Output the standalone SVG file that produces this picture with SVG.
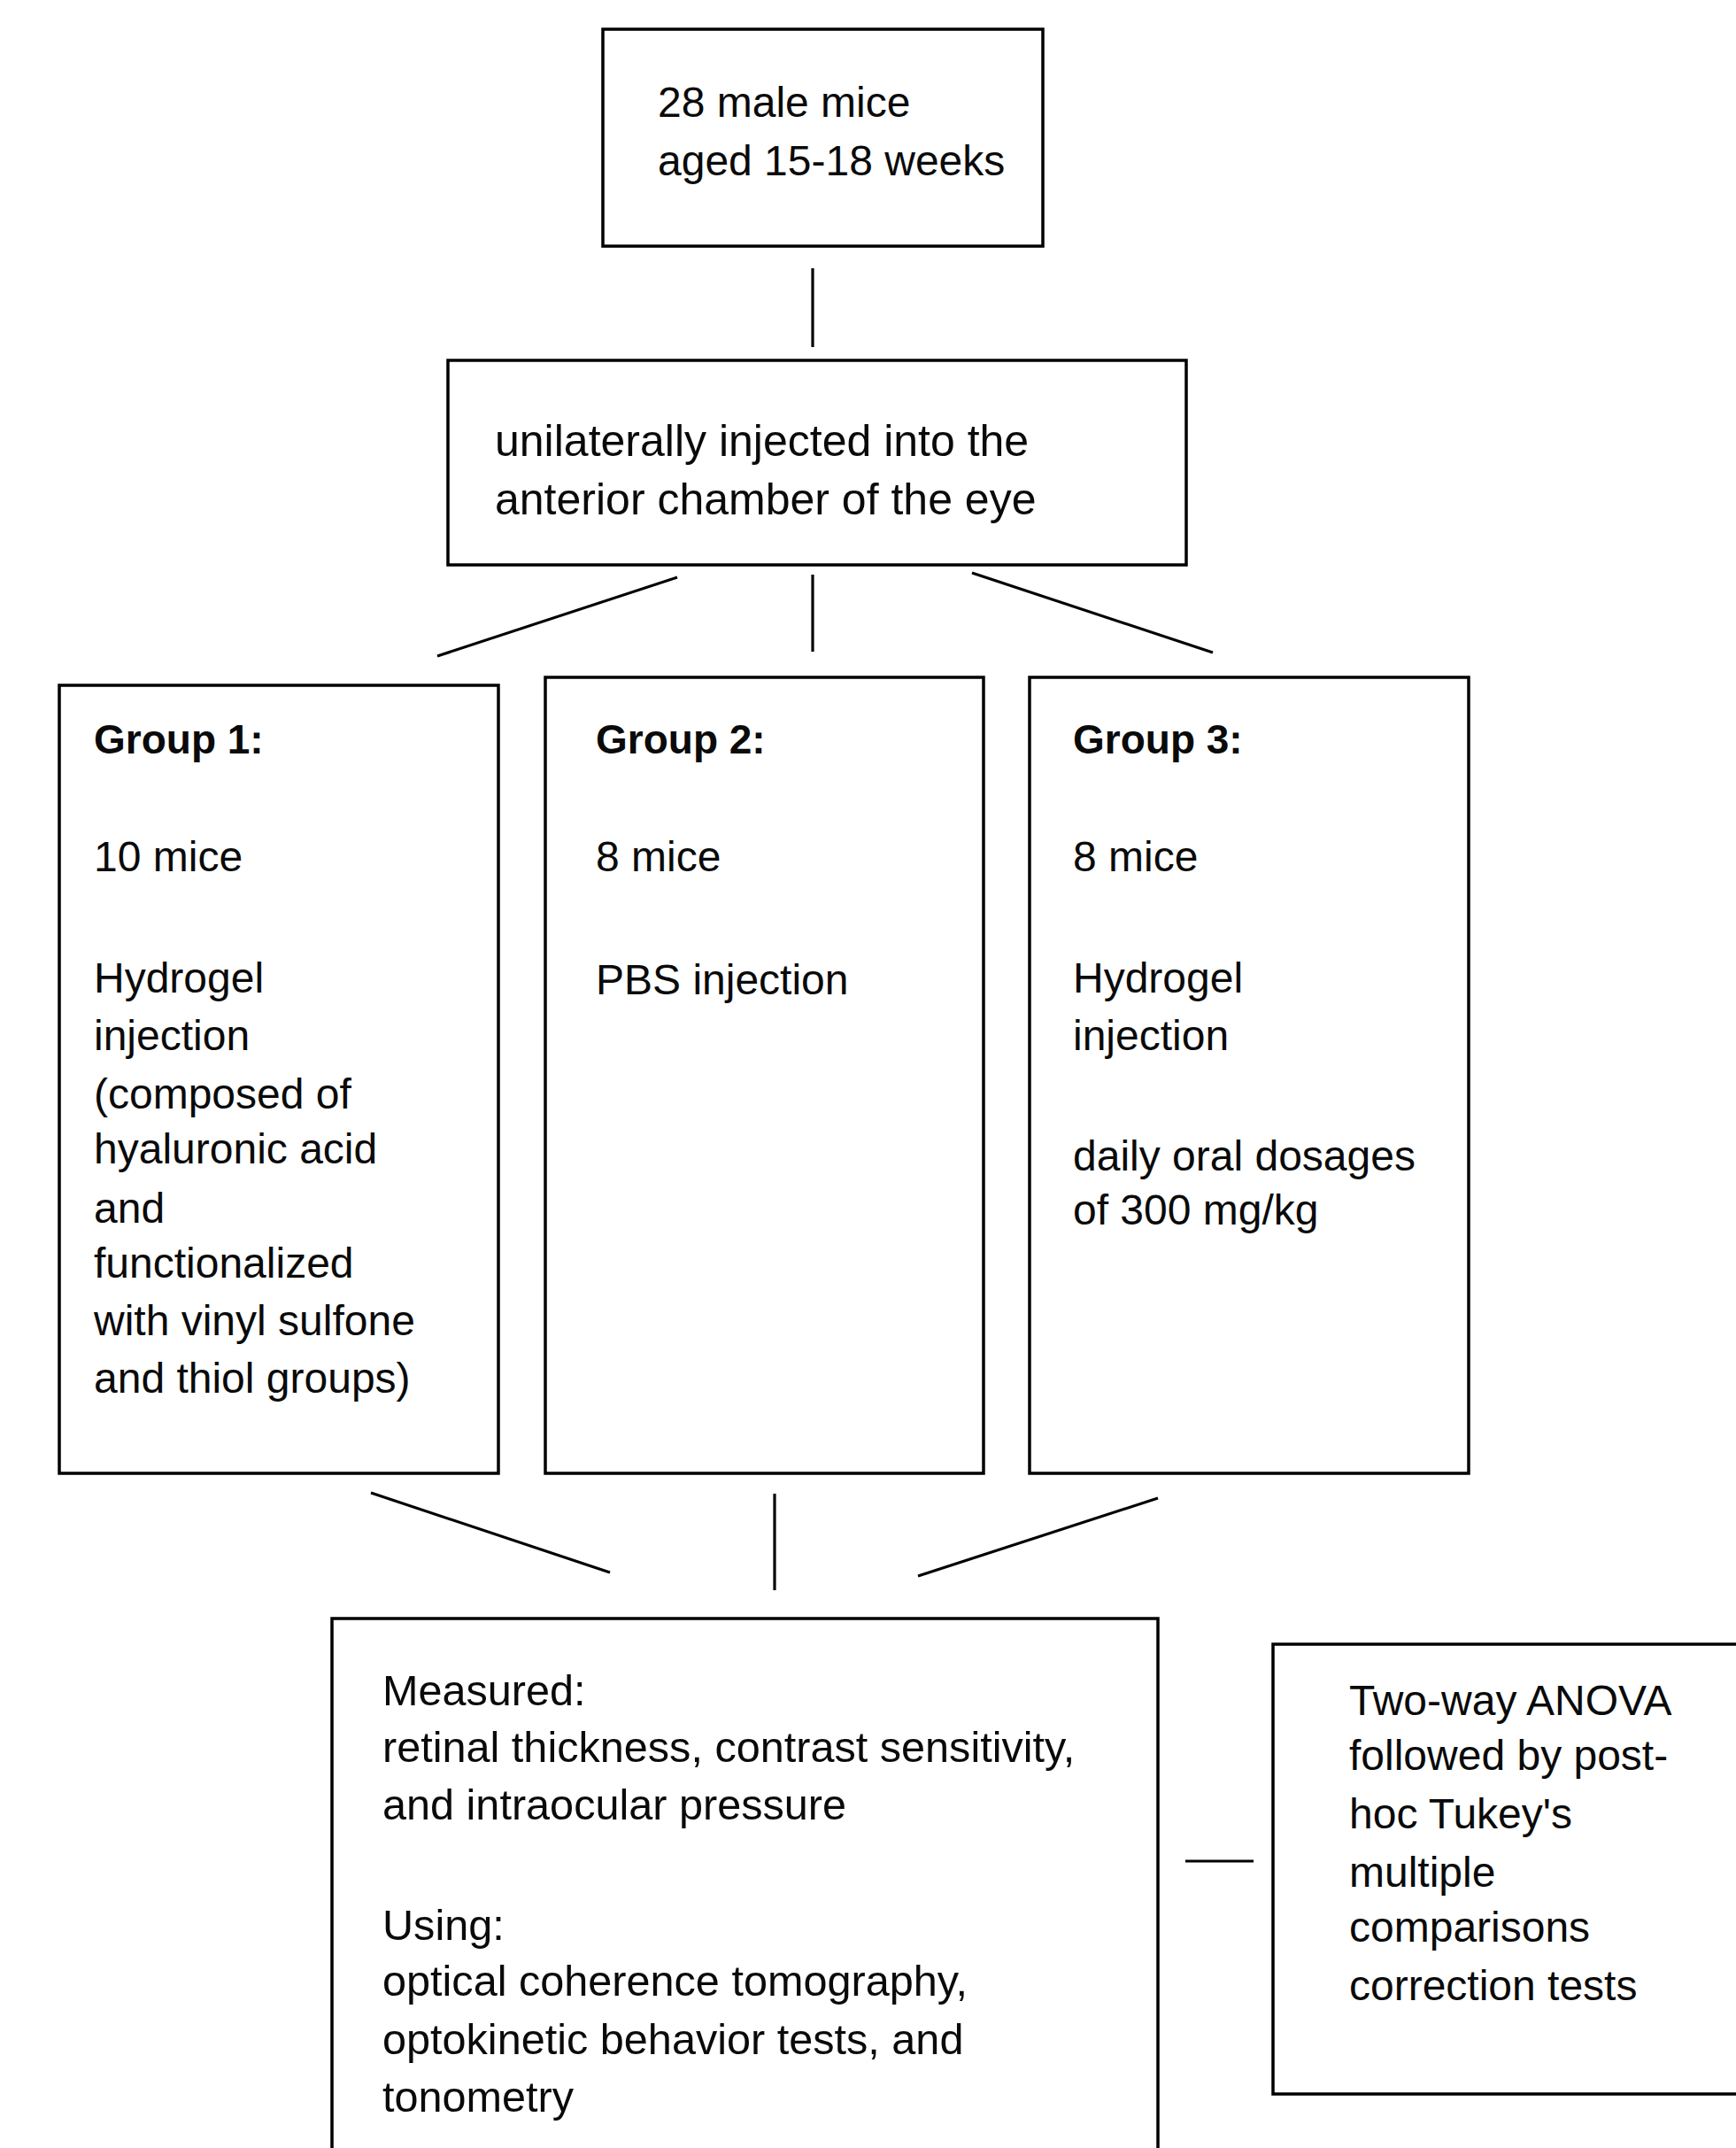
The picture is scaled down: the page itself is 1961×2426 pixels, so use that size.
<svg xmlns="http://www.w3.org/2000/svg" width="1961" height="2426" viewBox="0 0 1961 2426">
<style>
  .box { fill: #ffffff; stroke: #000000; stroke-width: 3.5; }
  .conn line { stroke: #000000; stroke-width: 3.2; stroke-linecap: butt; }
  text { font-family: "Liberation Sans", Arial, sans-serif; font-size: 48px; fill: #0a0a0a; }
  .b2 { font-size: 50px; }
  .m { font-size: 48.6px; }
  .bold { font-weight: bold; font-size: 46px; }
</style>
<rect x="0" y="0" width="1961" height="2426" fill="#ffffff"/>

<g id="connectors" class="conn">
  <line x1="918" y1="303" x2="918" y2="392"/>
  <line x1="765" y1="652" x2="494" y2="741"/>
  <line x1="918" y1="649" x2="918" y2="736"/>
  <line x1="1098" y1="647" x2="1370" y2="737"/>
  <line x1="419" y1="1686" x2="689" y2="1776"/>
  <line x1="875" y1="1687" x2="875" y2="1796"/>
  <line x1="1308" y1="1692" x2="1037" y2="1780"/>
  <line x1="1339" y1="2102" x2="1416" y2="2102"/>
</g>

<g id="node-mice">
  <rect class="box" x="681" y="33" width="497" height="245"/>
  <text x="743" y="132">28 male mice</text>
  <text x="743" y="198">aged 15-18 weeks</text>
</g>

<g id="node-injected">
  <rect class="box" x="506" y="407" width="834" height="231"/>
  <text class="b2" x="559" y="515">unilaterally injected into the</text>
  <text class="b2" x="559" y="581">anterior chamber of the eye</text>
</g>

<g id="node-group1">
  <rect class="box" x="67" y="774" width="496" height="890"/>
  <text class="bold" x="106" y="851">Group 1:</text>
  <text x="106" y="984">10 mice</text>
  <text x="106" y="1121">Hydrogel</text>
  <text x="106" y="1186">injection</text>
  <text x="106" y="1252">(composed of</text>
  <text x="106" y="1314">hyaluronic acid</text>
  <text x="106" y="1381">and</text>
  <text x="106" y="1443">functionalized</text>
  <text x="106" y="1508">with vinyl sulfone</text>
  <text x="106" y="1573">and thiol groups)</text>
</g>

<g id="node-group2">
  <rect class="box" x="616" y="765" width="495" height="899"/>
  <text class="bold" x="673" y="851">Group 2:</text>
  <text x="673" y="984">8 mice</text>
  <text x="673" y="1123">PBS injection</text>
</g>

<g id="node-group3">
  <rect class="box" x="1163" y="765" width="496" height="899"/>
  <text class="bold" x="1212" y="851">Group 3:</text>
  <text x="1212" y="984">8 mice</text>
  <text x="1212" y="1121">Hydrogel</text>
  <text x="1212" y="1186">injection</text>
  <text x="1212" y="1322">daily oral dosages</text>
  <text x="1212" y="1383">of 300 mg/kg</text>
</g>

<g id="node-measured">
  <rect class="box" x="375" y="1828" width="933" height="640"/>
  <text class="m" x="432" y="1926">Measured:</text>
  <text class="m" x="432" y="1990">retinal thickness, contrast sensitivity,</text>
  <text class="m" x="432" y="2055">and intraocular pressure</text>
  <text class="m" x="432" y="2191">Using:</text>
  <text class="m" x="432" y="2254">optical coherence tomography,</text>
  <text class="m" x="432" y="2320">optokinetic behavior tests, and</text>
  <text class="m" x="432" y="2385">tonometry</text>
</g>

<g id="node-anova">
  <rect class="box" x="1438" y="1857" width="560" height="508"/>
  <text x="1524" y="1937">Two-way ANOVA</text>
  <text x="1524" y="1999">followed by post-</text>
  <text x="1524" y="2065">hoc Tukey's</text>
  <text x="1524" y="2131">multiple</text>
  <text x="1524" y="2193">comparisons</text>
  <text x="1524" y="2259">correction tests</text>
</g>
</svg>
